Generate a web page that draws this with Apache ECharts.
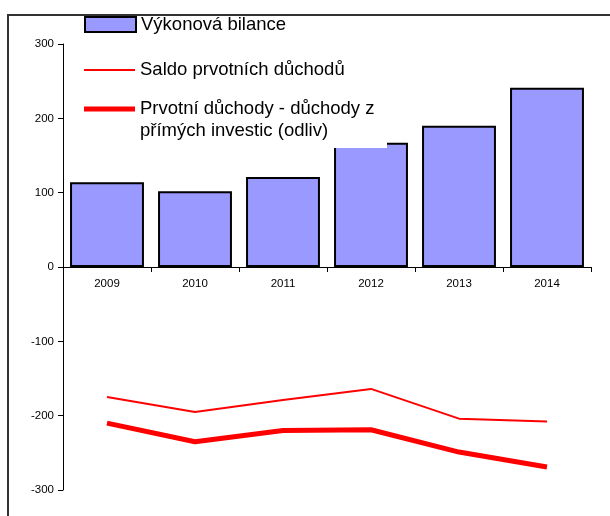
<!DOCTYPE html>
<html>
<head>
<meta charset="utf-8">
<script src="https://cdn.jsdelivr.net/npm/echarts@6/dist/echarts.min.js"></script>
<style>
  html, body { margin: 0; padding: 0; background: #fff; }
  #chart { width: 610px; height: 516px; }
</style>
</head>
<body>
<div id="chart"></div>
<script>
var years = ["2009", "2010", "2011", "2012", "2013", "2014"];
var vykonova = [114, 102, 121, 167, 190, 241];
var saldo = [-175, -195, -179, -164, -204, -208];
var prime = [-210, -235, -220, -219, -249, -269];
var yTicks = { min: -300, max: 300, step: 100 };

var nameBar = "Výkonová bilance";
var nameSaldo = "Saldo prvotních důchodů";
var namePrime = "Prvotní důchody - důchody z\npřímých investic (odliv)";

var font = "Liberation Sans, Arial, sans-serif";
var chart = echarts.init(document.getElementById("chart"));

function legendAt(name, top, h, fmt) {
  return {
    show: true,
    left: 84,
    top: top,
    padding: 0,
    orient: "vertical",
    icon: "rect",
    itemWidth: 51,
    itemHeight: h,
    selectedMode: false,
    formatter: fmt,
    data: [name],
    textStyle: { fontFamily: font, fontSize: 18.5, color: "#000", lineHeight: 22 }
  };
}

chart.setOption({
  backgroundColor: "#fff",
  animation: false,
  graphic: [
    {
      type: "rect",
      z: 1,
      shape: { x: 8, y: 15, width: 700, height: 600 },
      style: { fill: "none", stroke: "#333", lineWidth: 2 }
    },
    {
      // white box behind the legend, it hides the top of the 2012 bar
      type: "rect",
      z: 3,
      shape: { x: 66, y: 17, width: 321, height: 131 },
      style: { fill: "#fff" }
    }
  ],
  legend: [
    legendAt(nameBar, 13.5, 15),
    legendAt(nameSaldo, 59, 2),
    legendAt(namePrime, 76, 5, function (n) { return "\n" + n; })
  ],
  grid: { left: 63, right: 19, top: 44, bottom: 26 },
  xAxis: {
    type: "category",
    data: years,
    offset: -223,
    axisLine: { onZero: false, lineStyle: { color: "#000", width: 1 } },
    axisTick: { show: true, length: 5, lineStyle: { color: "#000" } },
    axisLabel: { color: "#000", fontFamily: font, fontSize: 11.5, margin: 11 },
    splitLine: { show: false }
  },
  yAxis: {
    type: "value",
    min: yTicks.min,
    max: yTicks.max,
    interval: yTicks.step,
    axisLine: { show: true, lineStyle: { color: "#000", width: 1 } },
    axisTick: { show: true, length: 5, lineStyle: { color: "#000" } },
    axisLabel: { color: "#000", fontFamily: font, fontSize: 11.5, margin: 9 },
    splitLine: { show: false }
  },
  series: [
    {
      name: nameBar,
      type: "bar",
      data: vykonova,
      barCategoryGap: "16%",
      itemStyle: { color: "#9999ff", borderColor: "#000", borderWidth: 2 }
    },
    {
      name: nameSaldo,
      type: "line",
      data: saldo,
      symbol: "none",
      lineStyle: { color: "#ff0000", width: 2 },
      itemStyle: { color: "#ff0000" }
    },
    {
      name: namePrime,
      type: "line",
      data: prime,
      symbol: "none",
      lineStyle: { color: "#ff0000", width: 5 },
      itemStyle: { color: "#ff0000" }
    }
  ]
});
</script>
</body>
</html>
